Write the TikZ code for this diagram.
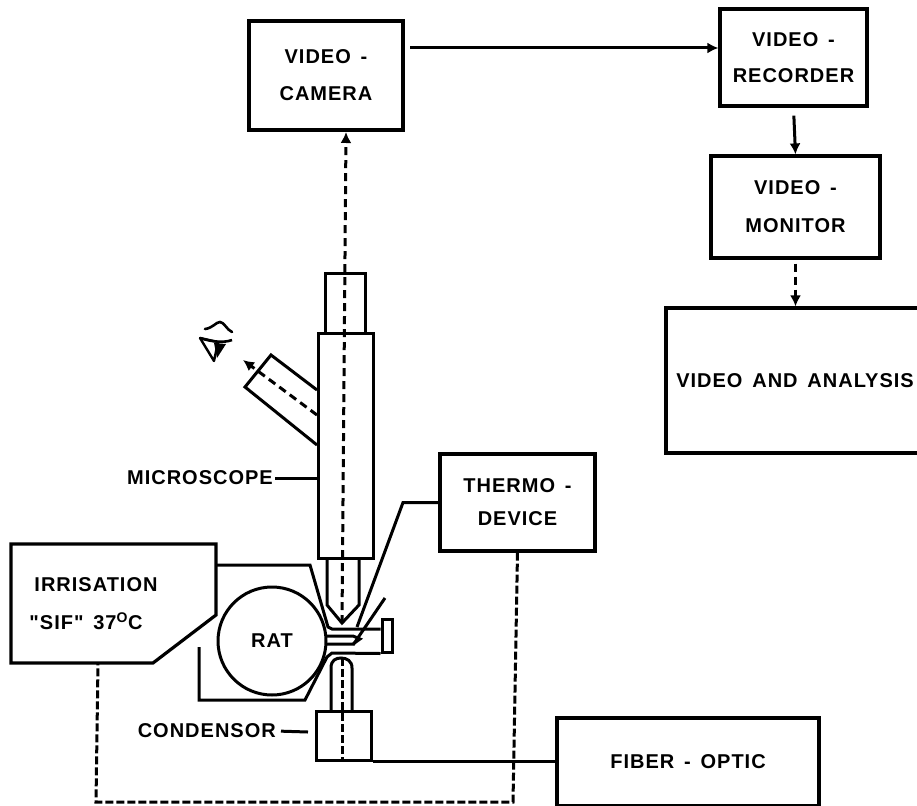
\documentclass[tikz,border=0pt]{standalone}
\usepackage{fontspec}
\setmainfont{Liberation Sans}[LetterSpace=5,WordSpace=1.5,Ligatures=TeXOff]
\usetikzlibrary{arrows.meta,calc}

\begin{document}
\begin{tikzpicture}[
    x=1pt, y=-1pt,
    lbl/.style={font=\bfseries\fontsize{20}{38}\selectfont, align=center, inner sep=0pt},
    box/.style={draw, line width=3.2pt, lbl},
    part/.style={draw, line width=3pt, inner sep=0pt},
    wire/.style={line width=3pt},
    arrow/.style={-{Latex[length=11pt,width=11pt]}, line width=3pt},
    dasharrow/.style={arrow, dash pattern=on 8pt off 5pt},
    dashline/.style={line width=3pt, dash pattern=on 8pt off 3pt}
]

\useasboundingbox (0,0) rectangle (917,805);

\node[box, minimum width=154pt, minimum height=109pt] (camera) at (326,75.5)
{VIDEO -\\[-1pt]CAMERA};

\node[box, minimum width=147pt, minimum height=97pt] (recorder) at (793.5,57.5)
{VIDEO -\\[-2pt]RECORDER};

\node[box, minimum width=169pt, minimum height=102pt] (monitor) at (795.5,207)
{VIDEO -\\MONITOR};

\node[box, minimum width=258pt, minimum height=145pt] (analysis) at (795,380.5)
{VIDEO AND ANALYSIS};

\node[box, minimum width=155pt, minimum height=97pt] (thermo) at (517.5,502.5)
{THERMO -\\[-5pt]DEVICE};

\node[box, minimum width=262pt, minimum height=88pt] (fiber) at (688,762)
{FIBER - OPTIC};

\draw[line width=3.2pt] (11,544) -- (216,544) -- (216,615) -- (153,663) -- (11,663) -- cycle;
\node[lbl, align=left] (irrisation) at (96,604)
{IRRISATION\\\hspace{-5pt}"SIF" 37\textsuperscript{O}C};

\node[part, minimum width=40pt, minimum height=60pt] (eyepiece) at (345,303) {};
\node[part, minimum width=55pt, minimum height=225pt] (tube) at (345.5,445.5) {};
\node[part, minimum width=55pt, minimum height=49pt] (condensor) at (343.5,735.5) {};
\node[part, circle, minimum size=108pt, lbl] (rat) at (272,641) {RAT};
\node[part, minimum width=10pt, minimum height=33pt] (clamp) at (387,635.5) {};

\node[lbl, anchor=east] (microscopelabel) at (273,478) {MICROSCOPE};
\node[lbl, anchor=east] (condensorlabel) at (276,731) {CONDENSOR};

\coordinate (objtip) at (342,623);
\coordinate (camin) at (346,132);
\coordinate (camout) at (410,48);
\coordinate (sidein) at (317,415);
\coordinate (sideout) at (243,360);
\coordinate (irrout) at (98,663);
\coordinate (bendright) at (513,802);
\coordinate (bendleft) at (96,802);
\coordinate (condensortip) at (308,732);

\draw[part] (317,390) -- (271,355) -- (245,387) -- (317,445);
\draw[part] (327,558) -- (327,605) -- (objtip) -- (359,605) -- (359,558);
\draw[part] (331,711) -- (331,668) .. controls (331,660) and (336,658) .. (341,658)
    .. controls (347,658) and (352,661) .. (352,668) -- (352,711);

\draw[part] (216,565) -- (310,565) -- (328,627) -- (332,629) -- (clamp.west |- 0,629);
\draw[part] (199,647) -- (199,700) -- (305,700) -- (327,657) -- (332,653) -- (clamp.south west);
\draw[part] (327,636) -- (353,636) -- (360,639) -- (353,644) -- (327,644);
\draw[part] (353,645) -- (385,598);

\draw[wire] (thermo.west) -- (thermo.west -| 403,0) -- (357,627);
\draw[wire] (condensor.south east) -- (condensor.south east -| fiber.west);
\draw[wire, shorten <=2pt] (microscopelabel.east) -- (microscopelabel.east -| tube.west);
\draw[wire, shorten <=5pt] (condensorlabel.east) -- (condensortip);

\draw[dasharrow] (objtip) -- (camin);
\draw[dasharrow] (sidein) -- (sideout);
\draw[arrow] (camout) -- (camout -| recorder.west);
\draw[arrow, shorten <=8pt] (recorder.south) -- (monitor.north);
\draw[dasharrow, shorten <=4pt] (monitor.south) -- (monitor.south |- analysis.north);
\draw[dashline] (342,658) -- (condensor.south -| 342,0);
\draw[dashline] (thermo.south) -- (bendright) -- (bendleft) -- (irrout);

\draw[line width=2.6pt, line cap=round] (205,329) .. controls (213,328) and (216,322) .. (220,322)
    .. controls (224,322) and (227,330) .. (232,332);
\draw[line width=2.4pt, line join=round] (200,338) -- (214,361) -- (218,342) -- cycle;
\draw[line width=2.6pt] (200,338) .. controls (212,342) and (224,343) .. (232,340);
\fill (214,343) -- (226,344) -- (217,358) -- cycle;

\end{tikzpicture}
\end{document}
